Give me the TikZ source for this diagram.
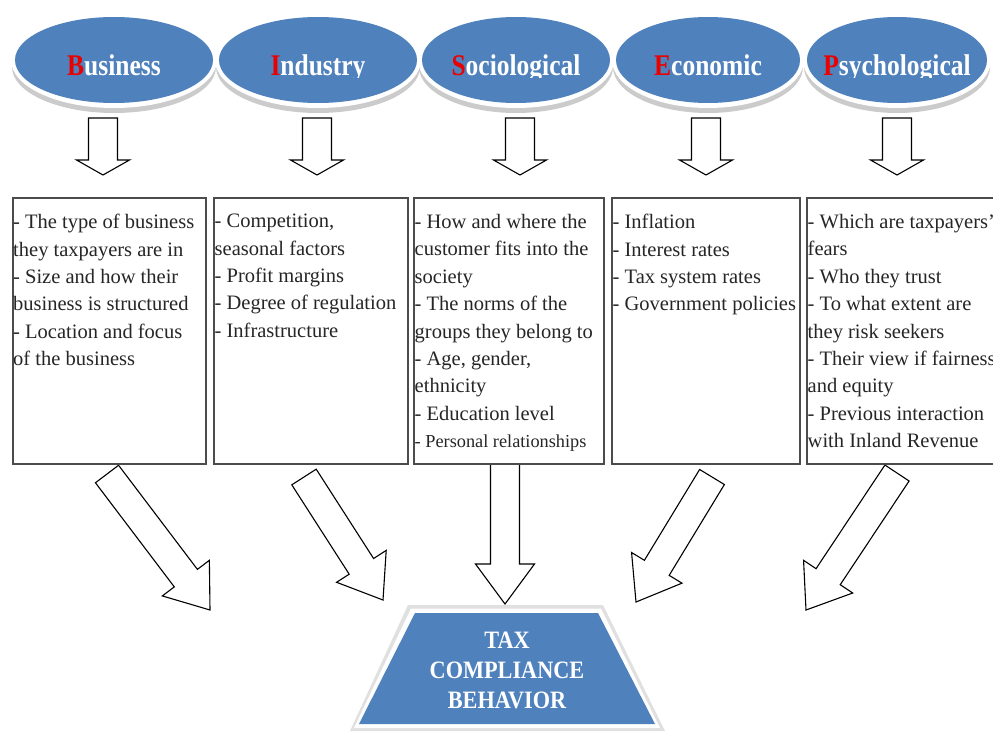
\documentclass[tikz,border=0pt]{standalone}
\usepackage{fontspec}
\setmainfont{Liberation Serif}
\usetikzlibrary{calc,shapes.geometric}
\definecolor{oblue}{RGB}{79,129,189}
\definecolor{tred}{RGB}{235,0,0}
\newcommand{\blockarr}[5]{% #1 tail, #2 tip, #3 shaft half, #4 head half, #5 head length
  \coordinate (hb) at ($(#2)!#5!(#1)$);
  \draw[barrow] ($(#1)!#3!90:(#2)$) -- ($(hb)!#3!-90:(#1)$) -- ($(hb)!#4!-90:(#1)$) -- (#2)
    -- ($(hb)!#4!90:(#1)$) -- ($(hb)!#3!90:(#1)$) -- ($(#1)!#3!-90:(#2)$) -- cycle;
}
\newcommand{\factor}[5]{% #1 name, #2 cx, #3 rx, #4 first letter, #5 rest
  \fill[black!45, opacity=.45] (#2,67) ellipse ({#3pt+3pt} and 46pt);
  \fill[white] (#2,60) ellipse ({#3pt+4pt} and 48pt);
  \node[ellipse, fill=oblue, inner sep=0pt, minimum width={2*#3}, minimum height=86pt] (#1) at (#2,60) {};
  \begin{scope}
    \clip (#2-110,20) rectangle (#2+110,77.5);
    \node[anchor=base, inner sep=0pt, text=white, font=\bfseries\fontsize{30}{30}\selectfont] (#1t) at (#2,75)
      {\scalebox{0.85}[1]{\textcolor{tred}{#4}#5}};
  \end{scope}
}
\begin{document}
\begin{tikzpicture}[x=1pt,y=-1pt,
  barrow/.style={draw=black, line width=1.1pt, fill=white, line join=miter},
  infobox/.style={draw=black!70, line width=1.6pt, fill=white, anchor=north west, inner sep=0pt, minimum height=266pt},
  boxtext/.style={anchor=north west, inner sep=0pt, align=left, font=\fontsize{20.5}{27.4}\selectfont, text=black!85},
  tcbtext/.style={anchor=base, inner sep=0pt, text=white, font=\bfseries\fontsize{25}{25}\selectfont},
]
\useasboundingbox (0,0) rectangle (993,731);
\clip (0,0) rectangle (993,731);

% ellipses
\factor{e1}{114}{99}{B}{usiness}
\factor{e2}{318}{99}{I}{ndustry}
\factor{e3}{516}{94}{S}{ociological}
\factor{e4}{708}{92}{E}{conomic}
\factor{e5}{897}{90}{P}{sychological}

% small arrows
\foreach \i/\x in {1/103,2/317,3/520,4/706,5/897}{
  \coordinate (s\i) at (\x,118);
  \coordinate (d\i) at (\x,175);
  \blockarr{s\i}{d\i}{14.5pt}{26.5pt}{15pt}
}

% big arrows (drawn before boxes)
\coordinate (a1) at (107,474); \coordinate (t1) at (210,610);
\coordinate (a2) at (304,477); \coordinate (t2) at (383,600);
\coordinate (a3) at (505,463); \coordinate (t3) at (505,604);
\coordinate (a4) at (712,477); \coordinate (t4) at (636,602);
\coordinate (a5) at (897,473); \coordinate (t5) at (806,610);
\foreach \i in {1,...,5}{\blockarr{a\i}{t\i}{14.5pt}{29.5pt}{40pt}}

% boxes
\node[infobox, minimum width=193pt] (b1) at (12,197) {};
\node[infobox, minimum width=194pt] (b2) at (213,197) {};
\node[infobox, minimum width=190pt] (b3) at (413,197) {};
\node[infobox, minimum width=188pt] (b4) at (611,197) {};
\node[infobox, minimum width=194pt] (b5) at (806,197) {};

\node[boxtext] (x1) at (13,214) {- The type of business\\they taxpayers are in\\- Size and how their\\business is structured\\- Location and focus\\of the business};
\node[boxtext] (x2) at (214.5,214) {- Competition,\\seasonal factors\\- Profit margins\\- Degree of regulation\\- Infrastructure};
\node[boxtext] (x3) at (414.5,214) {- How and where the\\customer fits into the\\society\\- The norms of the\\groups they belong to\\- Age, gender,\\ethnicity\\- Education level\\{\fontsize{18.3}{27.4}\selectfont - Personal relationships}};
\node[boxtext] (x4) at (612.5,214) {- Inflation\\- Interest rates\\- Tax system rates\\- Government policies};
\node[boxtext] (x5) at (807.5,214) {- Which are taxpayers'\\fears\\- Who they trust\\- To what extent are\\they risk seekers\\- Their view if fairness\\and equity\\- Previous interaction\\with Inland Revenue};

% trapezoid
\fill[black!12] (408,605) -- (603,605) -- (665,731) -- (350,731) -- cycle;
\fill[white] (411,608.5) -- (601,608.5) -- (660,728) -- (354,728) -- cycle;
\fill[oblue] (415,613) -- (598,613) -- (655,724) -- (359,724) -- cycle;
\node[tcbtext] (c1) at (507,648) {\scalebox{0.89}[1]{TAX}};
\node[tcbtext] (c2) at (507,678) {\scalebox{0.89}[1]{COMPLIANCE}};
\node[tcbtext] (c3) at (507,708) {\scalebox{0.89}[1]{BEHAVIOR}};
\end{tikzpicture}
\end{document}
